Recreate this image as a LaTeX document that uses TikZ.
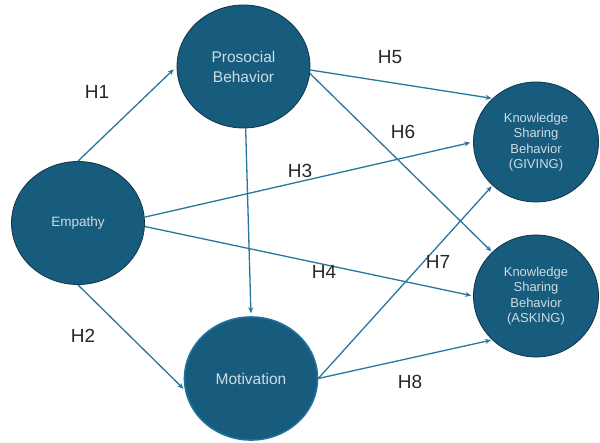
\documentclass[tikz,border=0pt]{standalone}
\usepackage{fontspec}
\setmainfont{Liberation Sans}
\usetikzlibrary{shapes.geometric,arrows.meta}
\definecolor{cfill}{RGB}{23,92,125}
\definecolor{cline}{RGB}{16,52,72}
\definecolor{cring}{RGB}{32,112,160}
\definecolor{carr}{RGB}{40,118,158}
\definecolor{ctxt}{RGB}{205,220,228}
\tikzstyle{model}=[
    construct/.style={ellipse, fill=cfill, draw=cline, line width=0.8pt,
        minimum width=133pt, minimum height=123pt, inner sep=0pt,
        text=ctxt, align=center},
    path/.style={carr, line width=1.3pt, -{Stealth[length=6pt,width=5pt]}},
    hyp/.style={font={\fontsize{19pt}{22pt}\selectfont}, text=black!85},
]

\begin{document}
\begin{tikzpicture}
[
    model,
    x=1pt, y=-1pt
]
    \useasboundingbox (0,0) rectangle (600,443);

    \node[construct, font={\fontsize{13.5pt}{16pt}\selectfont}] (emp) at (78,223) {Empathy};
    \node[construct, font={\fontsize{15.5pt}{20pt}\selectfont}] (pro) at (243.5,66.5) {Prosocial\\Behavior};
    \node[construct, draw=cring, line width=1.6pt, font={\fontsize{15.5pt}{20pt}\selectfont}] (mot) at (251,378.5) {Motivation};
    \node[construct, minimum width=125pt, minimum height=120pt, font={\fontsize{13pt}{15.5pt}\selectfont}] (give) at (536,142) {Knowledge\\Sharing\\Behavior\\(GIVING)};
    \node[construct, minimum width=125pt, minimum height=122pt, font={\fontsize{13pt}{15.5pt}\selectfont}] (ask) at (536,296) {Knowledge\\Sharing\\Behavior\\(ASKING)};

    \draw[path, shorten >=4pt] (emp.north) -- (pro.west);
    \draw[path, shorten >=2pt] (emp.south) -- (mot.190);
    \draw[path, shorten >=3pt] (emp.5) -- (give.west);
    \draw[path, shorten >=2pt] (emp.-3) -- (ask.west);
    \draw[path, shorten >=1pt] (pro.-3) -- (give.135);
    \draw[path, shorten >=1pt] (pro.-6) -- (ask.135);
    \draw[path, shorten >=3pt] (pro.-88) -- (mot.north);
    \draw[path, shorten >=1pt] (mot.east) -- (give.225);
    \draw[path, shorten >=1pt] (mot.east) -- (ask.225);

    \node[hyp] (h1) at (97,92) {H1};
    \node[hyp] (h2) at (83,336) {H2};
    \node[hyp] (h3) at (300,171) {H3};
    \node[hyp] (h4) at (324,272) {H4};
    \node[hyp] (h5) at (390,57) {H5};
    \node[hyp] (h6) at (403,132) {H6};
    \node[hyp] (h7) at (438,262) {H7};
    \node[hyp] (h8) at (410,382) {H8};
\end{tikzpicture}
\end{document}
